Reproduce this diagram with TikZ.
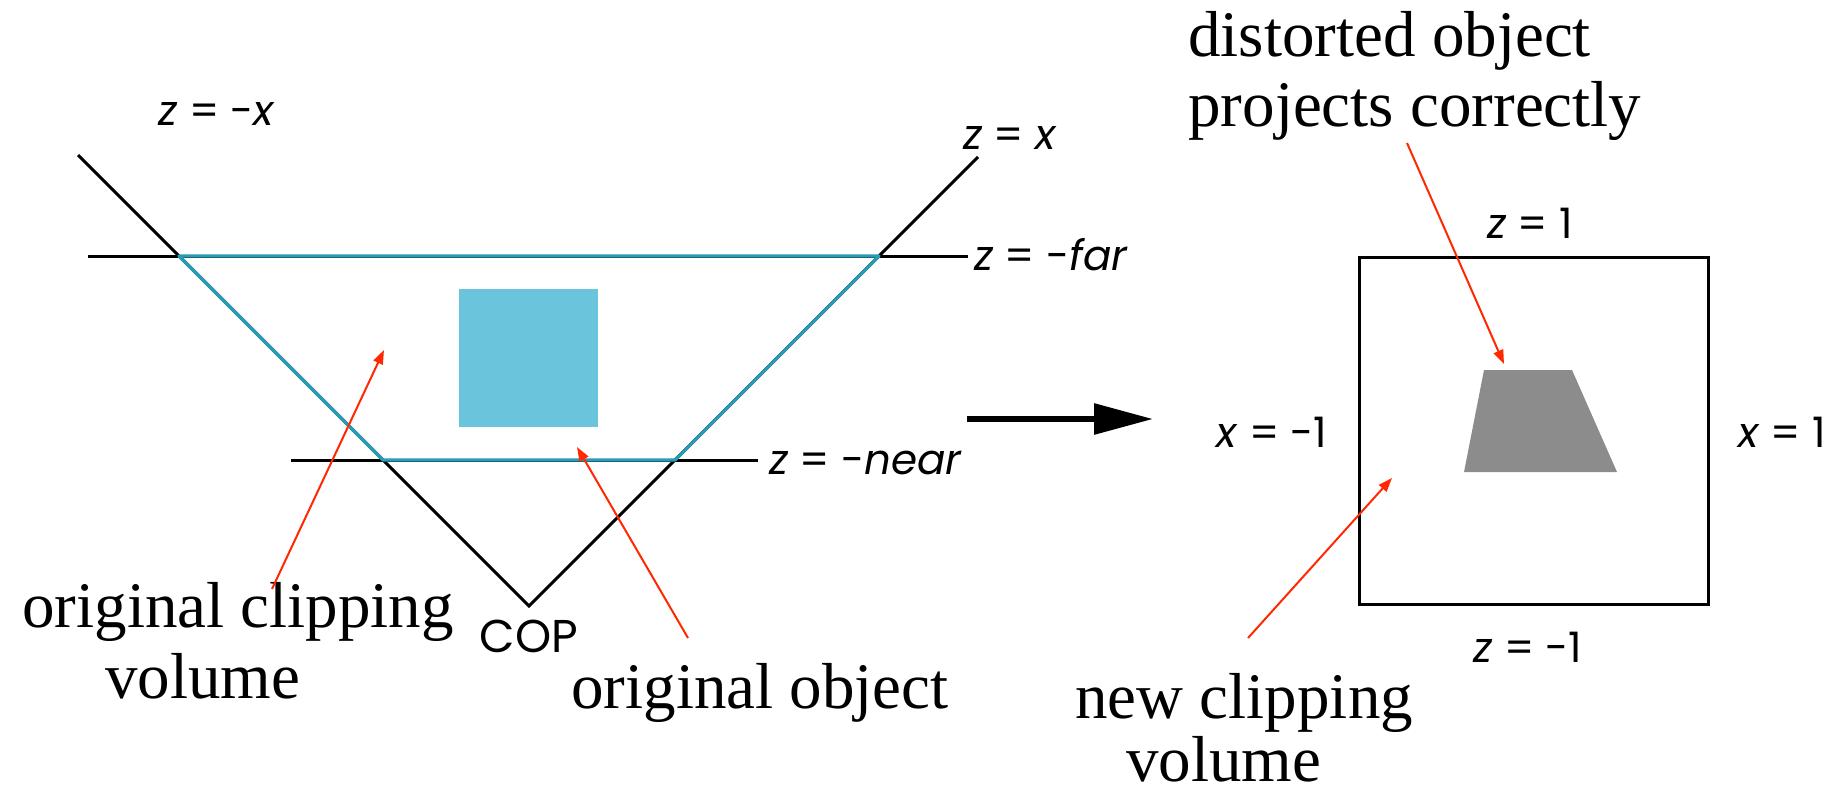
\documentclass[tikz,border=0pt]{standalone}
\usepackage{fontspec}
\setmainfont{Liberation Serif}
\newfontfamily\lblfont{Poppins}
\usetikzlibrary{arrows.meta}
\definecolor{clipcyan}{RGB}{40,156,180}
\definecolor{objblue}{RGB}{105,196,220}
\definecolor{objgray}{RGB}{140,140,140}
\definecolor{callred}{RGB}{255,40,0}
\begin{document}
\begin{tikzpicture}[x=0.5pt,y=-0.5pt,
  bigtext/.style={font=\fontsize{32.5}{36}\selectfont, inner sep=0pt, anchor=base west},
  axlabel/.style={font=\lblfont\fontsize{21}{25}\selectfont, inner sep=0pt, anchor=base},
  edgeline/.style={line width=1.5pt, black},
  clipline/.style={line width=1.6pt, clipcyan, line join=round},
  callout/.style={callred, line width=1pt, -{Triangle[length=7pt,width=5pt]}},
  bigarrow/.style={line width=3pt, black, -{Triangle[length=29.5pt,width=15pt]}},
]
\useasboundingbox (0,0) rectangle (1847,793);
% frustum geometry
\coordinate (cop) at (529,606);
\coordinate (ltop) at (78,155);
\coordinate (rtop) at (978,157);
\coordinate (fl) at (88,256);
\coordinate (fr) at (968,256);
\coordinate (fli) at (179,256);
\coordinate (fri) at (879,256);
\coordinate (nl) at (291,460);
\coordinate (nr) at (758,460);
\coordinate (nli) at (383,460);
\coordinate (nri) at (675,460);
\draw[edgeline] (ltop) -- (cop) -- (rtop);
\draw[edgeline] (fl) -- (fr);
\draw[edgeline] (nl) -- (nr);
\draw[clipline] (fli) -- (fri) -- (nri) -- (nli) -- cycle;
% original object
\fill[objblue] (459,289) rectangle (598,427);
\coordinate (objtip) at (577,447);
\coordinate (cliptip) at (384,350);
% labels
\node[axlabel] (lzmx) at (217,125) {\textit{z} = -\textit{x}};
\node[axlabel] (lzx) at (1010,149) {\textit{z} = \textit{x}};
\node[axlabel] (lfar) at (1051,270) {\textit{z} = -\textit{far}};
\node[axlabel] (lnear) at (866,474) {\textit{z} = -\textit{near}};
\node[axlabel, font=\lblfont\fontsize{23}{27}\selectfont] (lcop) at (529,652) {COP};
% transformation arrow
\coordinate (arrs) at (967,419);
\coordinate (arre) at (1153,419);
\draw[bigarrow] (arrs) -- (arre);
% new clipping volume
\draw[edgeline] (1359,257) rectangle (1708,604);
\fill[objgray] (1484,370) -- (1572,370) -- (1617,472) -- (1464,472) -- cycle;
\coordinate (trtip) at (1504,364);
\coordinate (boxtip) at (1392,478);
\node[axlabel] (lz1) at (1530,238) {\textit{z} = 1};
\node[axlabel] (lzm1) at (1528,662) {\textit{z} = -1};
\node[axlabel] (lxm1) at (1272,447) {\textit{x} = -1};
\node[axlabel] (lx1) at (1782,447) {\textit{x} = 1};
% captions
\node[bigtext] (t1a) at (22,627) {original clipping};
\node[bigtext] (t1b) at (105,698) {volume};
\node[bigtext] (t2) at (571,708) {original object};
\node[bigtext] (t3a) at (1188,56) {distorted object};
\node[bigtext] (t3b) at (1188,126) {projects correctly};
\node[bigtext] (t4a) at (1075,718) {new clipping};
\node[bigtext] (t4b) at (1126,781) {volume};
\coordinate (s1) at (272,589);
\coordinate (s2) at (688,638);
\coordinate (s3) at (1407,143);
\coordinate (s4) at (1248,638);
\draw[callout] (s1) -- (cliptip);
\draw[callout] (s2) -- (objtip);
\draw[callout] (s3) -- (trtip);
\draw[callout] (s4) -- (boxtip);
\end{tikzpicture}
\end{document}
